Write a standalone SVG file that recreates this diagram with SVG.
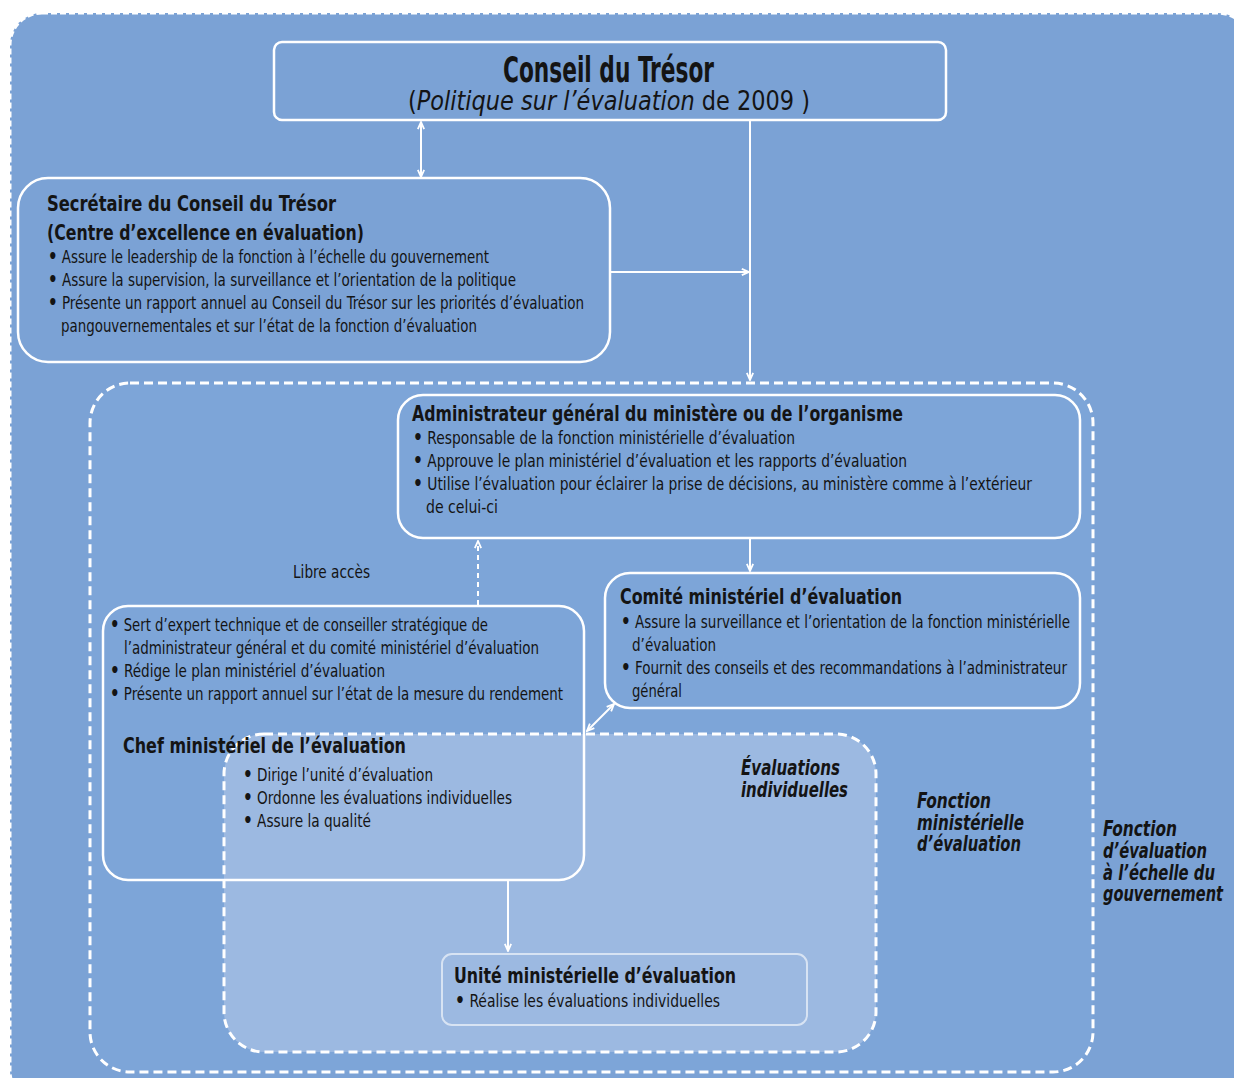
<svg xmlns="http://www.w3.org/2000/svg" width="1234" height="1078" viewBox="0 0 1234 1078">
<defs>
<style>
.t{font-family:"Liberation Sans Narrow","DejaVu Sans Condensed","Liberation Sans",sans-serif;fill:#141414}
.b{font-size:17px}
.h{font-size:22px;font-weight:bold}
.i{font-size:21px;font-style:italic;font-weight:bold}
.d{font-weight:bold;font-size:19px}
.box{fill:none;stroke:#fff;stroke-width:2.5}
.con{fill:none;stroke:#fff;stroke-width:2}
</style>
<marker id="ah" viewBox="0 0 10 10" refX="9" refY="5" markerWidth="9" markerHeight="9" orient="auto-start-reverse" markerUnits="userSpaceOnUse">
<path d="M1,1.5 L9,5 L1,8.5" fill="none" stroke="#fff" stroke-width="2"/>
</marker>
</defs>
<rect width="1234" height="1078" fill="#fff"/>
<g id="fonction-gouvernement">
<rect x="10" y="13" width="1240" height="1090" rx="32" fill="#7BA2D5" stroke="#fff" stroke-width="3" stroke-dasharray="6 3"/>
<text class="t i" x="1103" y="836" textLength="74" lengthAdjust="spacingAndGlyphs">Fonction</text>
<text class="t i" x="1103" y="858" textLength="104" lengthAdjust="spacingAndGlyphs">d’évaluation</text>
<text class="t i" x="1103" y="880" font-size="20" textLength="112" lengthAdjust="spacingAndGlyphs">à l’échelle du</text>
<text class="t i" x="1103" y="901" font-size="20" textLength="120" lengthAdjust="spacingAndGlyphs">gouvernement</text>
</g>
<g id="fonction-ministerielle">
<rect x="90" y="383" width="1003" height="689" rx="40" fill="#7DA5D8" stroke="#fff" stroke-width="3" stroke-dasharray="9 5"/>
<text class="t i" x="917" y="808" textLength="74" lengthAdjust="spacingAndGlyphs">Fonction</text>
<text class="t i" x="917" y="830" textLength="107" lengthAdjust="spacingAndGlyphs">ministérielle</text>
<text class="t i" x="917" y="851" textLength="104" lengthAdjust="spacingAndGlyphs">d’évaluation</text>
</g>
<g id="evaluations-individuelles">
<rect x="224" y="734" width="652" height="318" rx="40" fill="#9CB9E1" stroke="#fff" stroke-width="3" stroke-dasharray="9 5"/>
<text class="t i" x="741" y="775" textLength="99" lengthAdjust="spacingAndGlyphs">Évaluations</text>
<text class="t i" x="741" y="797" textLength="107" lengthAdjust="spacingAndGlyphs">individuelles</text>
</g>
<g id="conseil">
<rect class="box" x="274" y="42" width="672" height="78" rx="8"/>
<text class="t" x="503" y="82" font-size="35" font-weight="bold" textLength="211" lengthAdjust="spacingAndGlyphs">Conseil du Trésor</text>
<text class="t" x="408" y="110" font-size="26" textLength="402" lengthAdjust="spacingAndGlyphs">(<tspan font-style="italic">Politique sur l’évaluation</tspan> de 2009 )</text>
</g>
<g id="secretaire">
<rect class="box" x="18" y="178" width="592" height="184" rx="30"/>
<text class="t h" x="47" y="211" textLength="289" lengthAdjust="spacingAndGlyphs">Secrétaire du Conseil du Trésor</text>
<text class="t h" x="47" y="240" textLength="317" lengthAdjust="spacingAndGlyphs">(Centre d’excellence en évaluation)</text>
<text class="t b" x="48" y="263" textLength="441" lengthAdjust="spacingAndGlyphs"><tspan class="d">•</tspan> Assure le leadership de la fonction à l’échelle du gouvernement</text>
<text class="t b" x="48" y="286" textLength="468" lengthAdjust="spacingAndGlyphs"><tspan class="d">•</tspan> Assure la supervision, la surveillance et l’orientation de la politique</text>
<text class="t b" x="48" y="309" textLength="536" lengthAdjust="spacingAndGlyphs"><tspan class="d">•</tspan> Présente un rapport annuel au Conseil du Trésor sur les priorités d’évaluation</text>
<text class="t b" x="61" y="332" textLength="416" lengthAdjust="spacingAndGlyphs">pangouvernementales et sur l’état de la fonction d’évaluation</text>
</g>
<g id="administrateur">
<rect class="box" x="398" y="395" width="682" height="143" rx="25"/>
<text class="t h" x="412" y="421" textLength="491" lengthAdjust="spacingAndGlyphs">Administrateur général du ministère ou de l’organisme</text>
<text class="t b" x="413" y="444" textLength="382" lengthAdjust="spacingAndGlyphs"><tspan class="d">•</tspan> Responsable de la fonction ministérielle d’évaluation</text>
<text class="t b" x="413" y="467" textLength="494" lengthAdjust="spacingAndGlyphs"><tspan class="d">•</tspan> Approuve le plan ministériel d’évaluation et les rapports d’évaluation</text>
<text class="t b" x="413" y="490" textLength="619" lengthAdjust="spacingAndGlyphs"><tspan class="d">•</tspan> Utilise l’évaluation pour éclairer la prise de décisions, au ministère comme à l’extérieur</text>
<text class="t b" x="426" y="513" textLength="72" lengthAdjust="spacingAndGlyphs">de celui-ci</text>
</g>
<g id="comite">
<rect class="box" x="605" y="573" width="475" height="135" rx="25"/>
<text class="t h" x="620" y="604" textLength="282" lengthAdjust="spacingAndGlyphs">Comité ministériel d’évaluation</text>
<text class="t b" x="621" y="628" textLength="449" lengthAdjust="spacingAndGlyphs"><tspan class="d">•</tspan> Assure la surveillance et l’orientation de la fonction ministérielle</text>
<text class="t b" x="632" y="651" textLength="84" lengthAdjust="spacingAndGlyphs">d’évaluation</text>
<text class="t b" x="621" y="674" textLength="446" lengthAdjust="spacingAndGlyphs"><tspan class="d">•</tspan> Fournit des conseils et des recommandations à l’administrateur</text>
<text class="t b" x="632" y="697" textLength="50" lengthAdjust="spacingAndGlyphs">général</text>
</g>
<g id="chef">
<rect class="box" x="103" y="606" width="481" height="274" rx="25"/>
<text class="t b" x="110" y="631" textLength="378" lengthAdjust="spacingAndGlyphs"><tspan class="d">•</tspan> Sert d’expert technique et de conseiller stratégique de</text>
<text class="t b" x="124" y="654" textLength="415" lengthAdjust="spacingAndGlyphs">l’administrateur général et du comité ministériel d’évaluation</text>
<text class="t b" x="110" y="677" textLength="275" lengthAdjust="spacingAndGlyphs"><tspan class="d">•</tspan> Rédige le plan ministériel d’évaluation</text>
<text class="t b" x="110" y="700" textLength="453" lengthAdjust="spacingAndGlyphs"><tspan class="d">•</tspan> Présente un rapport annuel sur l’état de la mesure du rendement</text>
<text class="t h" x="123" y="753" textLength="283" lengthAdjust="spacingAndGlyphs">Chef ministériel de l’évaluation</text>
<text class="t b" x="243" y="781" textLength="190" lengthAdjust="spacingAndGlyphs"><tspan class="d">•</tspan> Dirige l’unité d’évaluation</text>
<text class="t b" x="243" y="804" textLength="269" lengthAdjust="spacingAndGlyphs"><tspan class="d">•</tspan> Ordonne les évaluations individuelles</text>
<text class="t b" x="243" y="827" textLength="128" lengthAdjust="spacingAndGlyphs"><tspan class="d">•</tspan> Assure la qualité</text>
</g>
<g id="unite">
<rect x="442" y="954" width="365" height="71" rx="10" fill="none" stroke="#fff" stroke-opacity="0.6" stroke-width="2"/>
<text class="t h" x="454" y="983" textLength="282" lengthAdjust="spacingAndGlyphs">Unité ministérielle d’évaluation</text>
<text class="t b" x="455" y="1007" textLength="265" lengthAdjust="spacingAndGlyphs"><tspan class="d">•</tspan> Réalise les évaluations individuelles</text>
</g>
<g id="connectors">
<line class="con" x1="421" y1="122" x2="421" y2="177" marker-start="url(#ah)" marker-end="url(#ah)"/>
<line class="con" x1="750" y1="120" x2="750" y2="380" marker-end="url(#ah)"/>
<line class="con" x1="610" y1="272" x2="749" y2="272" marker-end="url(#ah)"/>
<line class="con" x1="750" y1="538" x2="750" y2="571" marker-end="url(#ah)"/>
<line class="con" x1="478" y1="605" x2="478" y2="541" stroke-dasharray="5 4" marker-end="url(#ah)"/>
<text class="t b" x="293" y="578" textLength="77" lengthAdjust="spacingAndGlyphs">Libre accès</text>
<line class="con" x1="587" y1="731" x2="614" y2="704" marker-start="url(#ah)" marker-end="url(#ah)"/>
<line class="con" x1="508" y1="880" x2="508" y2="951" marker-end="url(#ah)"/>
</g>
</svg>
